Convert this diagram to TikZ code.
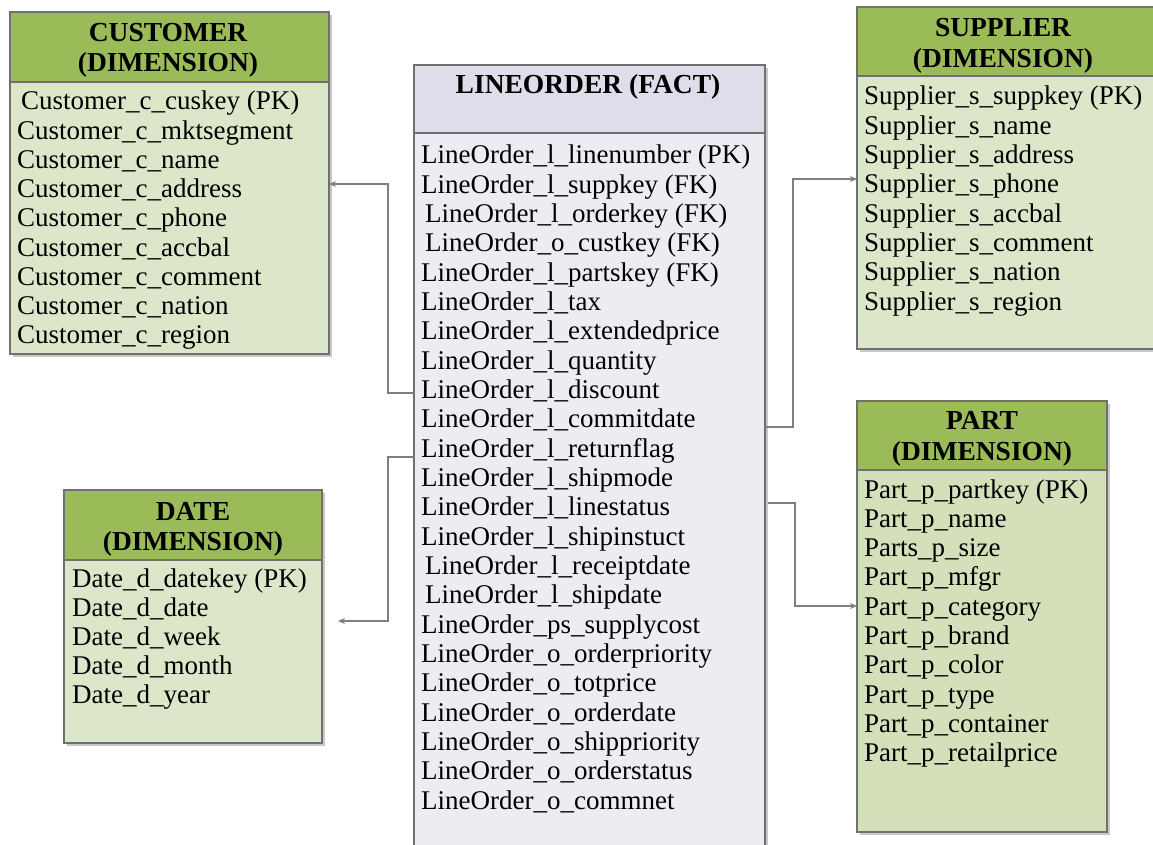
\documentclass[tikz,border=0pt]{standalone}
\usepackage{fontspec}
\setmainfont{Liberation Serif}
\usetikzlibrary{arrows.meta}

\definecolor{dimhead}{HTML}{9BBB59}
\definecolor{dimbody}{HTML}{DCE6C9}
\definecolor{partbody}{HTML}{D3E0BA}
\definecolor{facthead}{HTML}{E0DCEA}
\definecolor{factbody}{HTML}{EEEBF3}
\definecolor{edgegray}{HTML}{707070}
\definecolor{shade}{HTML}{C8C8C8}
\definecolor{linkgray}{HTML}{7F7F7F}

\tikzset{
  tbl/.style={draw=edgegray, line width=1.4pt, anchor=north west, inner sep=0pt, outer sep=0pt},
  tshadow/.style={fill=shade, draw=none, anchor=north west, inner sep=0pt, outer sep=0pt},
  rowtext/.style={anchor=base west, inner sep=0pt, font=\fontsize{27}{29}\selectfont},
  headtext/.style={anchor=base, inner sep=0pt, font=\bfseries\fontsize{27.5}{29}\selectfont},
  link/.style={draw=linkgray, line width=1.4pt, -{Stealth[length=7pt,width=6pt]}},
}

\begin{document}
\begin{tikzpicture}[x=1pt, y=-1pt]
\clip (0,0) rectangle (1153,845);

% ---------- CUSTOMER ----------
\node[tshadow, minimum width=319pt, minimum height=342pt] (cust-sh) at (13,15) {};
\node[tbl, fill=dimbody, minimum width=319pt, minimum height=342pt] (cust) at (10,12) {};
\node[tbl, fill=dimhead, minimum width=319pt, minimum height=70pt] (cust-hd) at (10,12) {};
\node[headtext] (cust-t1) at (168,42) {CUSTOMER};
\node[headtext] (cust-t2) at (168,72) {(DIMENSION)};
\foreach \dx/\txt [count=\i from 0] in {
  4/Customer\_c\_cuskey (PK),
  0/Customer\_c\_mktsegment,
  0/Customer\_c\_name,
  0/Customer\_c\_address,
  0/Customer\_c\_phone,
  0/Customer\_c\_accbal,
  0/Customer\_c\_comment,
  0/Customer\_c\_nation,
  0/Customer\_c\_region}
  \node[rowtext] (cust-r\i) at (17+\dx, 110+29.2*\i) {\txt};

% ---------- DATE ----------
\node[tshadow, minimum width=258pt, minimum height=253pt] (date-sh) at (67,493) {};
\node[tbl, fill=dimbody, minimum width=258pt, minimum height=253pt] (date) at (64,490) {};
\node[tbl, fill=dimhead, minimum width=258pt, minimum height=70pt] (date-hd) at (64,490) {};
\node[headtext] (date-t1) at (193,520) {DATE};
\node[headtext] (date-t2) at (193,550) {(DIMENSION)};
\foreach \txt [count=\i from 0] in {
  Date\_d\_datekey (PK),
  Date\_d\_date,
  Date\_d\_week,
  Date\_d\_month,
  Date\_d\_year}
  \node[rowtext] (date-r\i) at (72, 587+29*\i) {\txt};

% ---------- LINEORDER ----------
\node[tshadow, minimum width=351pt, minimum height=815pt] (fact-sh) at (417,68) {};
\node[tbl, fill=factbody, minimum width=351pt, minimum height=815pt] (fact) at (414,65) {};
\node[tbl, fill=facthead, minimum width=351pt, minimum height=68pt] (fact-hd) at (414,65) {};
\node[headtext] (fact-t) at (588,94) {LINEORDER (FACT)};
\foreach \dx/\txt [count=\i from 0] in {
  0/LineOrder\_l\_linenumber (PK),
  0/LineOrder\_l\_suppkey (FK),
  4/LineOrder\_l\_orderkey (FK),
  4/LineOrder\_o\_custkey (FK),
  0/LineOrder\_l\_partskey (FK),
  0/LineOrder\_l\_tax,
  0/LineOrder\_l\_extendedprice,
  0/LineOrder\_l\_quantity,
  0/LineOrder\_l\_discount,
  0/LineOrder\_l\_commitdate,
  0/LineOrder\_l\_returnflag,
  0/LineOrder\_l\_shipmode,
  0/LineOrder\_l\_linestatus,
  0/LineOrder\_l\_shipinstuct,
  4/LineOrder\_l\_receiptdate,
  4/LineOrder\_l\_shipdate,
  0/LineOrder\_ps\_supplycost,
  0/LineOrder\_o\_orderpriority,
  0/LineOrder\_o\_totprice,
  0/LineOrder\_o\_orderdate,
  0/LineOrder\_o\_shippriority,
  0/LineOrder\_o\_orderstatus,
  0/LineOrder\_o\_commnet}
  \node[rowtext] (fact-r\i) at (421+\dx, 164+29.32*\i) {\txt};

% ---------- SUPPLIER ----------
\node[tshadow, minimum width=313pt, minimum height=342pt] (supp-sh) at (860,10) {};
\node[tbl, fill=dimbody, minimum width=313pt, minimum height=342pt] (supp) at (857,7) {};
\node[tbl, fill=dimhead, minimum width=313pt, minimum height=69pt] (supp-hd) at (857,7) {};
\node[headtext] (supp-t1) at (1003,37) {SUPPLIER};
\node[headtext] (supp-t2) at (1003,68) {(DIMENSION)};
\foreach \txt [count=\i from 0] in {
  Supplier\_s\_suppkey (PK),
  Supplier\_s\_name,
  Supplier\_s\_address,
  Supplier\_s\_phone,
  Supplier\_s\_accbal,
  Supplier\_s\_comment,
  Supplier\_s\_nation,
  Supplier\_s\_region}
  \node[rowtext] (supp-r\i) at (864, 105+29.3*\i) {\txt};

% ---------- PART ----------
\node[tshadow, minimum width=250pt, minimum height=431pt] (part-sh) at (860,404) {};
\node[tbl, fill=partbody, minimum width=250pt, minimum height=431pt] (part) at (857,401) {};
\node[tbl, fill=dimhead, minimum width=250pt, minimum height=69pt] (part-hd) at (857,401) {};
\node[headtext] (part-t1) at (982,429) {PART};
\node[headtext] (part-t2) at (982,460) {(DIMENSION)};
\foreach \txt [count=\i from 0] in {
  Part\_p\_partkey (PK),
  Part\_p\_name,
  Parts\_p\_size,
  Part\_p\_mfgr,
  Part\_p\_category,
  Part\_p\_brand,
  Part\_p\_color,
  Part\_p\_type,
  Part\_p\_container,
  Part\_p\_retailprice}
  \node[rowtext] (part-r\i) at (864, 498+29.33*\i) {\txt};

% ---------- relationships ----------
\coordinate (date-end) at (338,621);
\coordinate (part-src) at (768,503);
\draw[link] (fact.west |- 0,393) -- (388,393) |- (cust.east |- 0,184);
\draw[link] (fact.west |- 0,457) -- (388,457) |- (date-end);
\draw[link] (fact.east |- 0,427) -- (793,427) |- (supp.west |- 0,179);
\draw[link] (part-src) -- (795,503) |- (part.west |- 0,606);
\end{tikzpicture}
\end{document}
